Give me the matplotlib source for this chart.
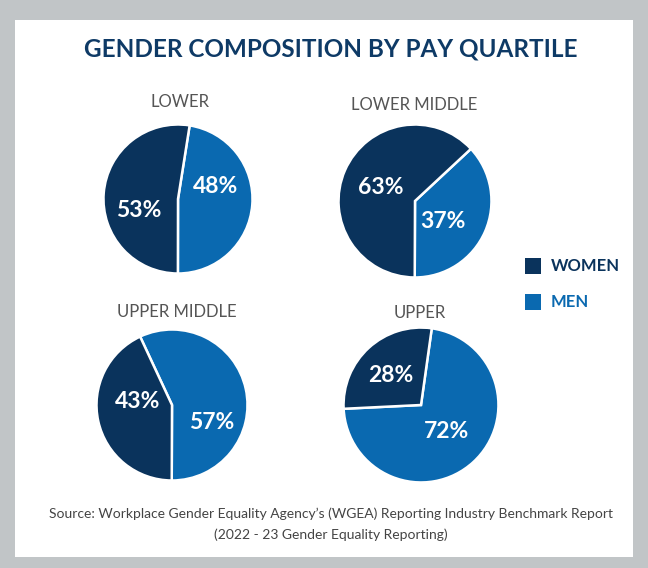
import matplotlib.pyplot as plt
from matplotlib.patches import Rectangle

# data
quartiles = ['LOWER', 'LOWER MIDDLE', 'UPPER MIDDLE', 'UPPER']
women = [53, 63, 43, 28]
men = [48, 37, 57, 72]
series_names = ['WOMEN', 'MEN']

WOMEN_COL = '#0a335c'
MEN_COL = '#0a69b0'
TITLE_COL = '#0e3a66'
GREY_TXT = '#555555'

W, H = 648, 568
plt.rcParams['font.family'] = ['Lato', 'DejaVu Sans']

fig = plt.figure(figsize=(W / 100, H / 100), dpi=100)
fig.patch.set_facecolor('#c1c5c7')
fig.patches.append(Rectangle((15 / W, 1 - 557 / H), 618 / W, 537 / H,
                             transform=fig.transFigure, facecolor='white',
                             edgecolor='none', zorder=-1))

def px(x, y):
    return x / W, 1 - y / H

fig.text(*px(331, 49), 'GENDER COMPOSITION BY PAY QUARTILE', ha='center', va='center',
         fontsize=17.5, fontweight='bold', color=TITLE_COL)

# layout per pie: centre x, centre y, radius (pixels), start angle, title pos
centres = [(178, 199, 76), (415, 201, 78), (172, 405, 77), (421, 405, 79)]
starts = [81, 43, 115, 82]
heads = [(180, 102), (414, 105), (177, 312), (420, 313)]
# label offsets as fraction of radius: (women, men)
lab_off = [((-0.53, -0.15), (0.50, 0.17)),
           ((-0.45, 0.17), (0.36, -0.27)),
           ((-0.45, 0.04), (0.52, -0.23)),
           ((-0.39, 0.38), (0.33, -0.34))]

for i, q in enumerate(quartiles):
    cx, cy, r = centres[i]
    ax = fig.add_axes([(cx - r) / W, 1 - (cy + r) / H, 2 * r / W, 2 * r / H])
    ax.pie([men[i], women[i]], colors=[MEN_COL, WOMEN_COL], startangle=starts[i],
           counterclock=False, radius=1,
           wedgeprops=dict(edgecolor='white', linewidth=1.8))
    ax.set_xlim(-1.02, 1.02)
    ax.set_ylim(-1.02, 1.02)
    ax.set_aspect('equal')
    ax.axis('off')
    (wx, wy), (mx, my) = lab_off[i]
    ax.text(wx, wy, f'{women[i]}%', ha='center', va='center', color='white',
            fontsize=16.5, fontweight='bold')
    ax.text(mx, my, f'{men[i]}%', ha='center', va='center', color='white',
            fontsize=16.5, fontweight='bold')
    fig.text(*px(*heads[i]), q, ha='center', va='center', fontsize=12, color=GREY_TXT)

# legend
for j, (name, col) in enumerate(zip(series_names, [WOMEN_COL, MEN_COL])):
    y = 266 + j * 36
    fig.patches.append(Rectangle(((525) / W, 1 - (y + 8) / H), 16 / W, 16 / H,
                                 transform=fig.transFigure, facecolor=col,
                                 edgecolor='none'))
    fig.text(*px(551, y), name, ha='left', va='center', fontsize=12,
             fontweight='bold', color=col)

fig.text(*px(331, 514), "Source: Workplace Gender Equality Agency\u2019s (WGEA) Reporting Industry Benchmark Report",
         ha='center', va='center', fontsize=10, color='#444444')
fig.text(*px(331, 535), '(2022 - 23 Gender Equality Reporting)',
         ha='center', va='center', fontsize=10, color='#444444')

fig.savefig('out.png', dpi=100, facecolor=fig.get_facecolor())
